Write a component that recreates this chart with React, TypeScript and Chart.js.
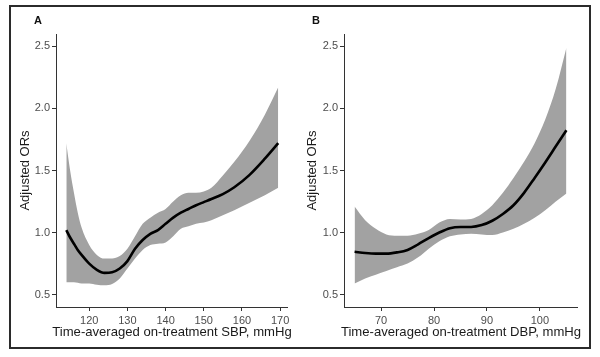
import React, { useEffect, useRef } from 'react';
import { Chart, registerables } from 'chart.js';

Chart.register(...registerables);

// Panel A: time-averaged on-treatment SBP
const sbpX = [114, 115, 116, 117, 118, 120, 122, 124, 126, 128, 130, 132, 134, 136, 138, 140, 142, 144, 146, 148, 150, 152, 155, 158, 162, 166, 169.5];
const sbpOR = [1.02, 0.96, 0.91, 0.86, 0.82, 0.75, 0.70, 0.675, 0.68, 0.71, 0.77, 0.87, 0.94, 0.99, 1.02, 1.07, 1.12, 1.16, 1.19, 1.22, 1.245, 1.27, 1.31, 1.365, 1.465, 1.595, 1.72];
const sbpUpper = [1.72, 1.50, 1.32, 1.16, 1.04, 0.90, 0.82, 0.79, 0.79, 0.81, 0.87, 0.97, 1.07, 1.12, 1.16, 1.19, 1.25, 1.30, 1.32, 1.32, 1.33, 1.36, 1.46, 1.57, 1.74, 1.95, 2.17];
const sbpLower = [0.60, 0.60, 0.60, 0.595, 0.59, 0.59, 0.58, 0.575, 0.585, 0.63, 0.71, 0.79, 0.86, 0.90, 0.91, 0.92, 0.97, 1.03, 1.05, 1.07, 1.08, 1.10, 1.14, 1.18, 1.24, 1.30, 1.36];

// Panel B: time-averaged on-treatment DBP
const dbpX = [65, 67, 69, 71, 73, 75, 77, 79, 81, 83, 85, 87, 89, 91, 93, 95, 97, 99, 101, 103, 105];
const dbpOR = [0.845, 0.835, 0.83, 0.83, 0.84, 0.86, 0.905, 0.955, 1.00, 1.035, 1.045, 1.045, 1.06, 1.095, 1.15, 1.22, 1.32, 1.44, 1.565, 1.695, 1.825];
const dbpUpper = [1.21, 1.10, 1.03, 0.985, 0.975, 0.975, 0.99, 1.02, 1.08, 1.11, 1.105, 1.11, 1.15, 1.22, 1.32, 1.44, 1.57, 1.72, 1.91, 2.16, 2.49];
const dbpLower = [0.59, 0.63, 0.66, 0.69, 0.72, 0.75, 0.80, 0.87, 0.93, 0.97, 0.985, 0.99, 0.985, 0.98, 1.00, 1.03, 1.07, 1.12, 1.18, 1.25, 1.315];

const yTicks = [0.5, 1.0, 1.5, 2.0, 2.5];
const sbpTicks = [120, 130, 140, 150, 160, 170];
const dbpTicks = [70, 80, 90, 100];

const FONT = '"Liberation Sans", Arial, sans-serif';

type PanelProps = {
  xs: number[]; ys: number[]; up: number[]; lo: number[];
  xTicks: number[]; xMin: number; xMax: number;
  yAxisWidth: number; padRight: number; yTitlePad: number;
  left: number; width: number;
};

function Panel(p: PanelProps) {
  const ref = useRef<HTMLCanvasElement | null>(null);
  useEffect(() => {
    if (!ref.current) return;
    const pts = (arr: number[]) => p.xs.map((x, i) => ({ x, y: arr[i] }));
    const chart = new Chart(ref.current, {
      type: 'line',
      data: {
        datasets: [
          {
            data: pts(p.ys), borderColor: '#000', borderWidth: 2.6, pointRadius: 0,
            fill: false, cubicInterpolationMode: 'monotone',
          },
          {
            data: pts(p.up), borderColor: 'transparent', borderWidth: 0, pointRadius: 0,
            backgroundColor: '#a2a2a2', fill: '+1', cubicInterpolationMode: 'monotone',
          },
          {
            data: pts(p.lo), borderColor: 'transparent', borderWidth: 0, pointRadius: 0,
            fill: false, cubicInterpolationMode: 'monotone',
          },
        ],
      },
      options: {
        animation: false,
        responsive: false,
        devicePixelRatio: 1,
        layout: { padding: { left: 0, top: 34, right: p.padRight, bottom: 0 } },
        plugins: { legend: { display: false }, tooltip: { enabled: false } },
        scales: {
          x: {
            type: 'linear', min: p.xMin, max: p.xMax,
            afterBuildTicks: (s: any) => { s.ticks = p.xTicks.map((v) => ({ value: v })); },
            afterFit: (s: any) => { s.height = 50; },
            grid: { display: true, drawOnChartArea: false, drawTicks: true, tickLength: 4, color: '#333' },
            border: { display: true, color: '#333', width: 1 },
            ticks: { color: '#4d4d4d', font: { family: FONT, size: 11 }, padding: 3, maxRotation: 0, autoSkip: false, callback: (v: any) => String(v) },
            title: { display: false },
          },
          y: {
            type: 'linear', min: 0.4, max: 2.6,
            afterBuildTicks: (s: any) => { s.ticks = yTicks.map((v) => ({ value: v })); },
            afterFit: (s: any) => { s.width = p.yAxisWidth; },
            grid: { display: true, drawOnChartArea: false, drawTicks: true, tickLength: 4, color: '#333' },
            border: { display: true, color: '#333', width: 1 },
            ticks: { color: '#4d4d4d', font: { family: FONT, size: 11 }, padding: 2, autoSkip: false, callback: (v: any) => Number(v).toFixed(1) },
            title: { display: true, text: 'Adjusted ORs', color: '#1a1a1a', font: { family: FONT, size: 13 }, padding: { top: p.yTitlePad, bottom: 0 } },
          },
        },
      },
    } as any);
    return () => chart.destroy();
  }, []);
  return (
    <canvas ref={ref} width={p.width} height={357}
      style={{ position: 'absolute', left: p.left, top: 0, width: p.width, height: 357 }} />
  );
}

export default function App() {
  const label: React.CSSProperties = {
    position: 'absolute', top: 13, fontFamily: FONT, fontWeight: 'bold', fontSize: 11, color: '#111', lineHeight: '14px',
  };
  const xTitle: React.CSSProperties = {
    position: 'absolute', top: 324, width: 300, textAlign: 'center', fontFamily: FONT, fontSize: 13.1,
    lineHeight: '16px', color: '#1a1a1a', whiteSpace: 'nowrap',
  };
  return (
    <div style={{ position: 'absolute', left: 0, top: 0, width: 600, height: 357, background: '#fff', overflow: 'hidden' }}>
      <Panel xs={sbpX} ys={sbpOR} up={sbpUpper} lo={sbpLower} xTicks={sbpTicks} xMin={111.3} xMax={171.8}
        yAxisWidth={56} padRight={13} yTitlePad={18} left={0} width={300} />
      <Panel xs={dbpX} ys={dbpOR} up={dbpUpper} lo={dbpLower} xTicks={dbpTicks} xMin={63} xMax={107}
        yAxisWidth={44} padRight={23} yTitlePad={5} left={300} width={300} />
      <div style={{ ...xTitle, left: 172 - 150 }}>Time-averaged on-treatment SBP, mmHg</div>
      <div style={{ ...xTitle, left: 461 - 150 }}>Time-averaged on-treatment DBP, mmHg</div>
      <div style={{ ...label, left: 34 }}>A</div>
      <div style={{ ...label, left: 312 }}>B</div>
      <div style={{ position: 'absolute', left: 9, top: 5, width: 582, height: 344, boxSizing: 'border-box', border: '2px solid #2b2b2b' }} />
    </div>
  );
}
